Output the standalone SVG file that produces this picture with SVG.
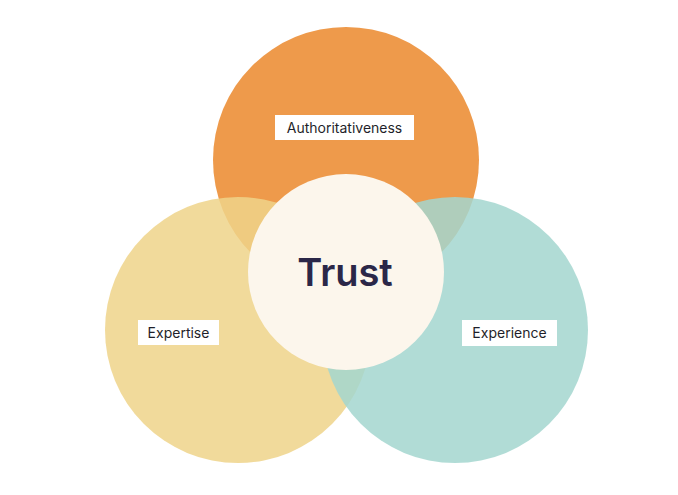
<svg xmlns="http://www.w3.org/2000/svg" width="678" height="495" viewBox="0 0 678 495">
<style>
.lbl{font-family:"Inter","Liberation Sans",sans-serif;font-size:14px;fill:#1f1f2a;text-anchor:middle}
.box{fill:#fff}
</style>
<rect width="678" height="495" fill="#fff"/>
<g id="authoritativeness">
<circle cx="346" cy="160" r="133" fill="#EE9A4B"/>
<rect class="box" x="275" y="115" width="139" height="25"/>
<text class="lbl" x="344.5" y="132.5">Authoritativeness</text>
</g>
<g id="expertise">
<circle cx="238" cy="330" r="133" fill="#EFD38A" fill-opacity="0.85"/>
<rect class="box" x="138" y="320" width="81" height="25"/>
<text class="lbl" x="178.5" y="337.5">Expertise</text>
</g>
<g id="experience">
<circle cx="455" cy="330" r="133" fill="#A3D6CF" fill-opacity="0.85"/>
<rect class="box" x="462" y="320" width="95" height="26"/>
<text class="lbl" x="509.5" y="338">Experience</text>
</g>
<g id="trust">
<circle cx="346" cy="272" r="98" fill="#FCF6EC"/>
<text x="345" y="286" font-family="Inter,'Liberation Sans',sans-serif" font-size="38" font-weight="600" fill="#2B2748" text-anchor="middle">Trust</text>
</g>
<g id="connectors"/>
</svg>
